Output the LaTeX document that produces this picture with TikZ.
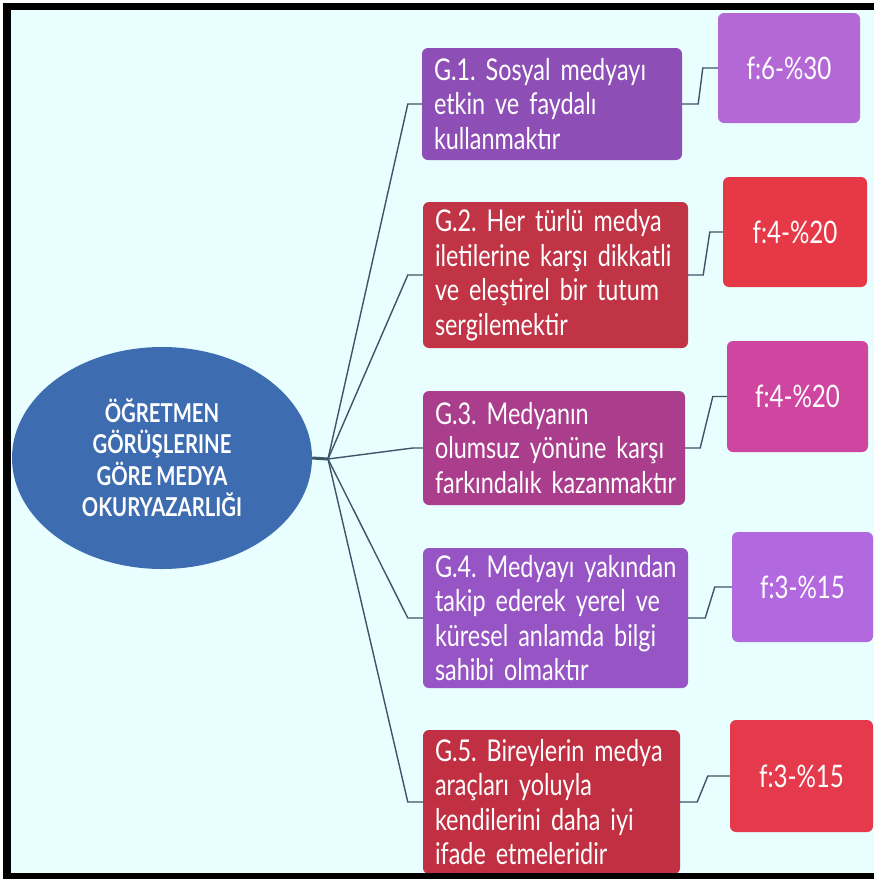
\documentclass[tikz,border=0pt]{standalone}
\usepackage{fontspec}
\setmainfont{Lato}[FakeStretch=0.78,WordSpace=0.8]
\usetikzlibrary{shapes.geometric}
\definecolor{bgc}{RGB}{233,254,254}
\definecolor{rootc}{RGB}{62,108,176}
\definecolor{linec}{RGB}{60,85,105}
\definecolor{gonec}{RGB}{141,79,181}
\definecolor{fonec}{RGB}{180,104,214}
\definecolor{gtwoc}{RGB}{192,52,70}
\definecolor{ftwoc}{RGB}{231,56,72}
\definecolor{gthreec}{RGB}{170,62,140}
\definecolor{fthreec}{RGB}{206,70,160}
\definecolor{gfourc}{RGB}{150,84,196}
\definecolor{ffourc}{RGB}{178,104,222}
\definecolor{gfivec}{RGB}{192,48,66}
\definecolor{ffivec}{RGB}{228,58,76}
\frenchspacing
\begin{document}
\begin{tikzpicture}[x=1pt,y=-1pt,
  gbox/.style={rectangle, rounded corners=6pt, text=white, align=left, inner xsep=12pt, inner ysep=0pt, font=\fontsize{30}{34.5}\selectfont},
  fbox/.style={rectangle, rounded corners=6pt, text=white, align=center, inner sep=0pt, font=\fontsize{31}{34}\selectfont},
  rootbox/.style={ellipse, fill=rootc, text=white, align=center, inner sep=0pt, font=\bfseries\fontsize{26}{31.5}\selectfont},
  conn/.style={draw=linec, line width=1.4pt},
]
\useasboundingbox (0,0) rectangle (874,879);
\fill[white] (0,0) rectangle (874,879);
\fill[bgc] (3,3) rectangle (874,879);

\node[rootbox, minimum width=300, minimum height=222] (root) at (162,458)
  {ÖĞRETMEN\\GÖRÜŞLERINE\\GÖRE MEDYA\\OKURYAZARLIĞI};

\node[gbox, fill=gonec, text width=236, minimum height=112] (g1) at (552,104)
  {\mbox{G.1. Sosyal medyayı}\\\mbox{etkin ve faydalı}\\\mbox{kullanmaktır}};
\node[gbox, fill=gtwoc, text width=241, minimum height=146] (g2) at (555.5,275)
  {\mbox{G.2. Her türlü medya}\\\mbox{iletilerine karşı dikkatli}\\\mbox{ve eleştirel bir tutum}\\\mbox{sergilemektir}};
\node[gbox, fill=gthreec, text width=238, minimum height=114] (g3) at (554,448)
  {\mbox{G.3. Medyanın}\\\mbox{olumsuz yönüne karşı}\\\mbox{farkındalık kazanmaktır}};
\node[gbox, fill=gfourc, text width=241, minimum height=140] (g4) at (555.5,618)
  {\mbox{G.4. Medyayı yakından}\\\mbox{takip ederek yerel ve}\\\mbox{küresel anlamda bilgi}\\\mbox{sahibi olmaktır}};
\node[gbox, fill=gfivec, text width=233, minimum height=144] (g5) at (551.5,802)
  {\mbox{G.5. Bireylerin medya}\\\mbox{araçları yoluyla}\\\mbox{kendilerini daha iyi}\\\mbox{ifade etmeleridir}};

\node[fbox, fill=fonec, minimum width=142, minimum height=110] (f1) at (789,68) {f:6-\%30};
\node[fbox, fill=ftwoc, minimum width=144, minimum height=110] (f2) at (795,232) {f:4-\%20};
\node[fbox, fill=fthreec, minimum width=141, minimum height=111] (f3) at (797.5,396.5) {f:4-\%20};
\node[fbox, fill=ffourc, minimum width=141, minimum height=110] (f4) at (802.5,587) {f:3-\%15};
\node[fbox, fill=ffivec, minimum width=143, minimum height=112] (f5) at (801.5,776) {f:3-\%15};

\coordinate (hub) at (328,459);
\draw[linec, line width=3pt] (root.east) -- (hub);
\draw[conn] (hub) -- ([xshift=-14pt]g1.west) -- (g1.west);
\draw[conn] (hub) -- ([xshift=-15pt]g2.west) -- (g2.west);
\draw[conn] (hub) -- ([xshift=-10pt]g3.west) -- (g3.west);
\draw[conn] (hub) -- ([xshift=-15pt]g4.west) -- (g4.west);
\draw[conn] (hub) -- ([xshift=-15pt]g5.west) -- (g5.west);

\draw[conn] (g1.east) -- ++(16,0) -- ([xshift=-15pt]f1.west) -- (f1.west);
\draw[conn] (g2.east) -- ++(15,0) -- ([xshift=-13pt]f2.west) -- (f2.west);
\draw[conn] (g3.east) -- ++(15,0) -- ([xshift=-14pt]f3.west) -- (f3.west);
\draw[conn] (g4.east) -- ++(17,0) -- ([xshift=-17pt]f4.west) -- (f4.west);
\draw[conn] (g5.east) -- ++(17,0) -- ([xshift=-22pt]f5.west) -- (f5.west);

\fill[black] (3,3) rectangle (11,879);
\fill[black] (3,3) rectangle (874,10);
\fill[black] (3,873) rectangle (874,879);
\end{tikzpicture}
\end{document}
